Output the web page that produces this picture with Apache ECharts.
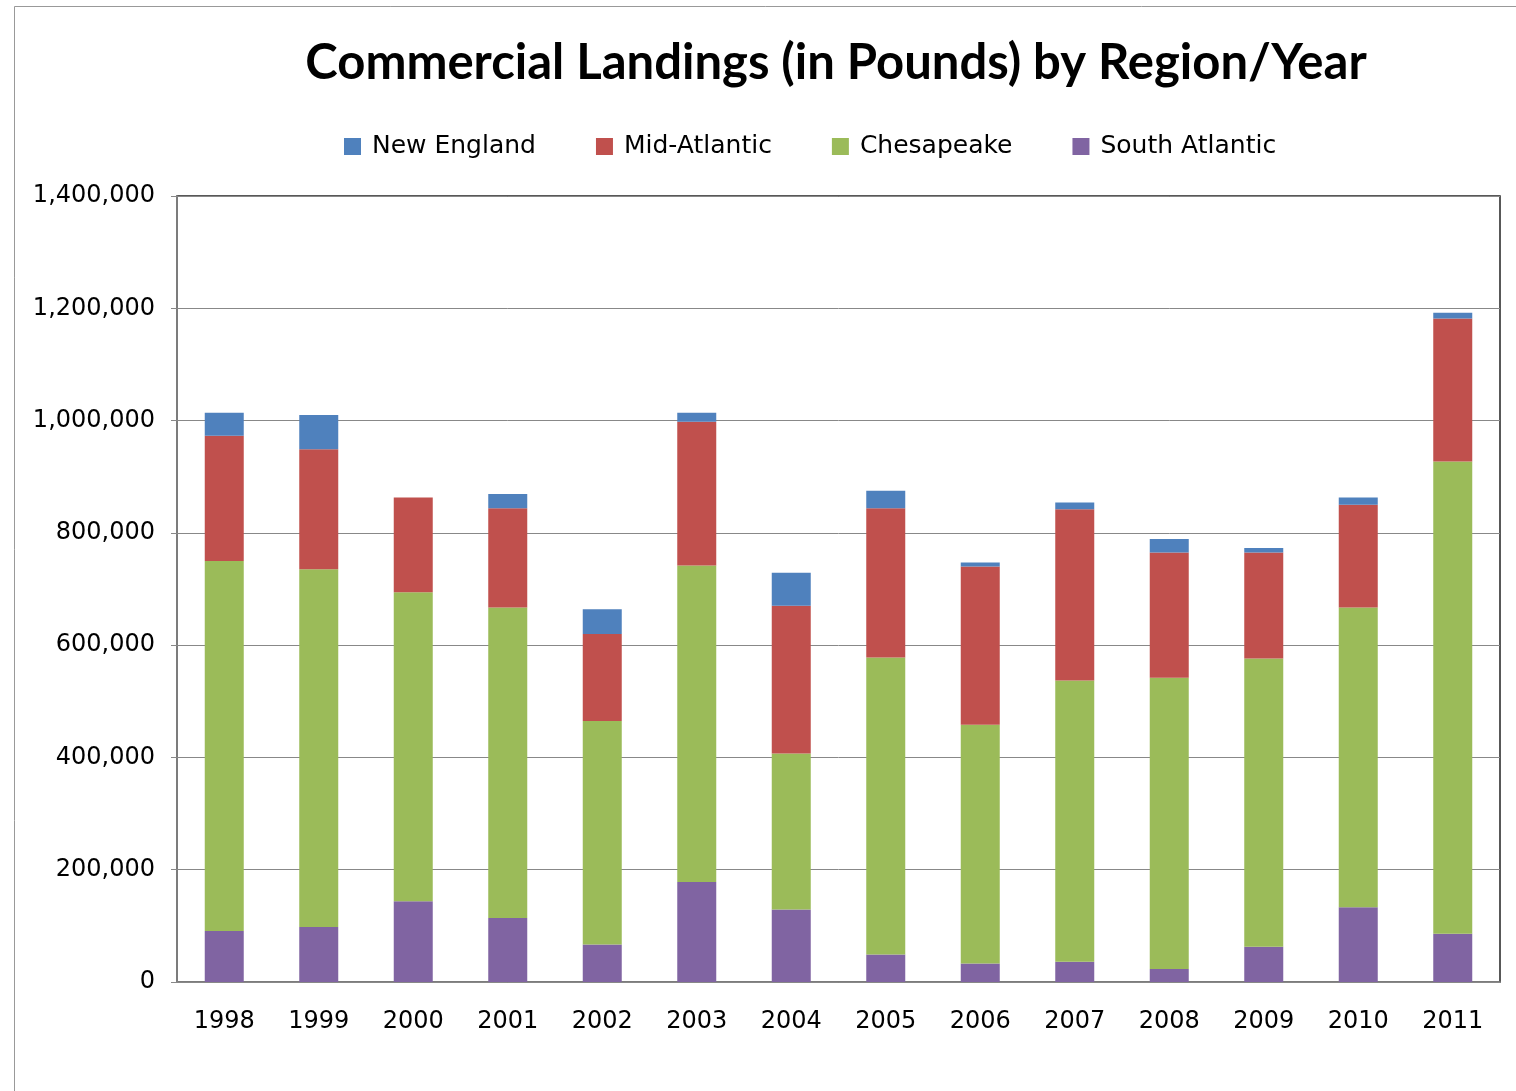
<!DOCTYPE html>
<html><head><meta charset="utf-8">
<script src="https://cdn.jsdelivr.net/npm/echarts@6/dist/echarts.min.js"></script>
<style>html,body{margin:0;padding:0;background:#fff}#c{width:1516px;height:1091px}</style>
</head><body><div id="c"></div>
<script>
const years = ['1998','1999','2000','2001','2002','2003','2004','2005','2006','2007','2008','2009','2010','2011'];
const southAtlantic = [91000, 98000, 144000, 114000, 67000, 178000, 129000, 49000, 33000, 36000, 23000, 63000, 133000, 86000];
const chesapeake   = [659000, 637000, 550000, 553000, 398000, 564000, 278000, 529000, 425000, 501000, 519000, 513000, 534000, 841000];
const midAtlantic  = [223000, 214000, 169000, 177000, 155000, 256000, 263000, 266000, 282000, 305000, 223000, 189000, 183000, 255000];
const newEngland   = [41000, 61000, 0, 25000, 44000, 16000, 59000, 31000, 7000, 12000, 24000, 8000, 13000, 10000];
const yTicks = [0, 200000, 400000, 600000, 800000, 1000000, 1200000, 1400000];

const chart = echarts.init(document.getElementById('c'));
const font = 'DejaVu Sans';
function bar(name, data, color) {
  return { name, type: 'bar', stack: 'total', data, barWidth: 39, itemStyle: { color } };
}
chart.setOption({
  animation: false,
  backgroundColor: '#fff',
  title: {
    text: 'Commercial Landings (in Pounds) by Region/Year',
    left: 831, top: 34, textAlign: 'center',
    textStyle: { fontFamily: 'Lato', fontWeight: 'bold', fontSize: 49, color: '#000' }
  },
  legend: {
    data: ['New England', 'Mid-Atlantic', 'Chesapeake', 'South Atlantic'],
    left: 339, top: 129, itemWidth: 17, itemHeight: 17, itemGap: 60,
    icon: 'rect',
    textStyle: { fontFamily: font, fontSize: 25, color: '#000', padding: [0, 0, 0, 6] }
  },
  graphic: [{
    type: 'rect', shape: { x: 14.5, y: 6.5, width: 1520, height: 1100 },
    style: { fill: 'none', stroke: '#999', lineWidth: 1 }, silent: true
  }],
  grid: { left: 177, right: 16, top: 196, bottom: 109, show: true, borderColor: '#222', borderWidth: 1.5 },
  xAxis: {
    type: 'category', data: years,
    axisLine: { lineStyle: { color: '#888', width: 1.5 } },
    axisTick: { length: 6, lineStyle: { color: '#888' } },
    axisLabel: { fontFamily: font, fontSize: 24, color: '#000', margin: 28 }
  },
  yAxis: {
    type: 'value', min: 0, max: 1400000, interval: 200000,
    axisLine: { show: true, lineStyle: { color: '#888', width: 1.5 } },
    axisTick: { show: true, length: 6, lineStyle: { color: '#888' } },
    splitLine: { lineStyle: { color: '#888', width: 1 } },
    axisLabel: {
      fontFamily: font, fontSize: 24, color: '#000', margin: 22,
      formatter: v => yTicks.includes(v) ? v.toLocaleString('en-US') : ''
    }
  },
  series: [
    bar('South Atlantic', southAtlantic, '#8064A2'),
    bar('Chesapeake', chesapeake, '#9BBB59'),
    bar('Mid-Atlantic', midAtlantic, '#C0504D'),
    bar('New England', newEngland, '#4F81BD')
  ]
});
</script></body></html>
